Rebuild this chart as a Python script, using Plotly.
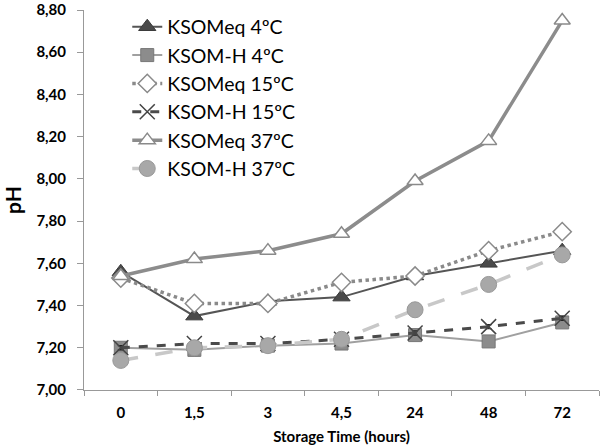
import plotly.graph_objects as go

categories = ["0", "1,5", "3", "4,5", "24", "48", "72"]

ksomeq_4 = [7.56, 7.35, 7.42, 7.44, 7.54, 7.60, 7.66]
ksomh_4 = [7.20, 7.19, 7.21, 7.22, 7.26, 7.23, 7.32]
ksomeq_15 = [7.53, 7.41, 7.41, 7.51, 7.54, 7.66, 7.75]
ksomh_15 = [7.20, 7.22, 7.22, 7.24, 7.27, 7.30, 7.34]
ksomeq_37 = [7.54, 7.62, 7.66, 7.74, 7.99, 8.18, 8.75]
ksomh_37 = [7.14, 7.20, 7.21, 7.24, 7.38, 7.50, 7.64]

err_small = [0.01, 0.01, 0.01, 0.01, 0.01, 0.01, 0.01]

y_ticks = [7.0, 7.2, 7.4, 7.6, 7.8, 8.0, 8.2, 8.4, 8.6, 8.8]

fig = go.Figure()

def add(name, y, line, marker):
    fig.add_trace(go.Scatter(
        x=categories, y=y, name=name, mode="lines+markers",
        line=line, marker=marker,
        error_y=dict(type="data", array=err_small, color="#222", thickness=1.2, width=3),
    ))

add("KSOMeq 4ºC", ksomeq_4,
    dict(color="#555555", width=2),
    dict(symbol="triangle-up", size=15, color="#4a4a4a", line=dict(color="#3a3a3a", width=1)))
add("KSOM-H 4ºC", ksomh_4,
    dict(color="#a0a0a0", width=2),
    dict(symbol="square", size=13, color="#8c8c8c", line=dict(color="#777777", width=1)))
add("KSOMeq 15ºC", ksomeq_15,
    dict(color="#8a8a8a", width=3.5, dash="dot"),
    dict(symbol="diamond", size=14, color="white", line=dict(color="#8a8a8a", width=1.5)))
add("KSOM-H 15ºC", ksomh_15,
    dict(color="#4a4a4a", width=3, dash="dash"),
    dict(symbol="x-thin", size=15, color="#444444", line=dict(color="#444444", width=1.5)))
add("KSOMeq 37ºC", ksomeq_37,
    dict(color="#8c8c8c", width=3.5),
    dict(symbol="triangle-up", size=14, color="white", line=dict(color="#8a8a8a", width=1.5)))
add("KSOM-H 37ºC", ksomh_37,
    dict(color="#c8c8c8", width=3.5, dash="longdash"),
    dict(symbol="circle", size=16, color="#a8a8a8", line=dict(color="#999999", width=1)))

fig.update_layout(
    width=600, height=445,
    margin=dict(l=84, r=1, t=10, b=55, autoexpand=False),
    paper_bgcolor="white", plot_bgcolor="white",
    separators=",.",
    font=dict(family="Lato, 'Open Sans', sans-serif", color="black"),
    showlegend=True,
    legend=dict(
        x=0.084, y=0.983, xanchor="left", yanchor="top", yref="container",
        bgcolor="rgba(255,255,255,0)",
        font=dict(size=19.5, family="Lato, sans-serif", color="black"),
        tracegroupgap=0, itemwidth=30,
    ),
    xaxis=dict(
        type="category", range=[-0.5, 6.5], automargin=False,
        tickson="boundaries", ticks="outside", ticklen=5, tickcolor="#999",
        showline=True, linecolor="#999", linewidth=1,
        showgrid=False, zeroline=False,
        tickfont=dict(size=15, family="Lato, sans-serif", color="black", weight="bold"),
        ticklabelstandoff=9,
        title=dict(text="Storage Time (hours)", standoff=11,
                   font=dict(size=15, family="Lato, sans-serif", color="black", weight="bold")),
    ),
    yaxis=dict(
        range=[6.9999, 8.8001], tickvals=y_ticks, tickformat=".2f", automargin=False,
        ticks="outside", ticklen=6, tickcolor="#999", ticklabeloverflow="allow",
        showline=True, linecolor="#999", linewidth=1,
        showgrid=False, zeroline=False,
        tickfont=dict(size=15, family="Lato, sans-serif", color="black", weight="bold"),
        ticklabelstandoff=8,
        title=dict(text="pH", standoff=12,
                   font=dict(size=21, family="Lato, sans-serif", color="black", weight="bold")),
    ),
)

fig.write_html("out.html", config={"displayModeBar": False},
               post_script="document.body.style.margin='0';")
